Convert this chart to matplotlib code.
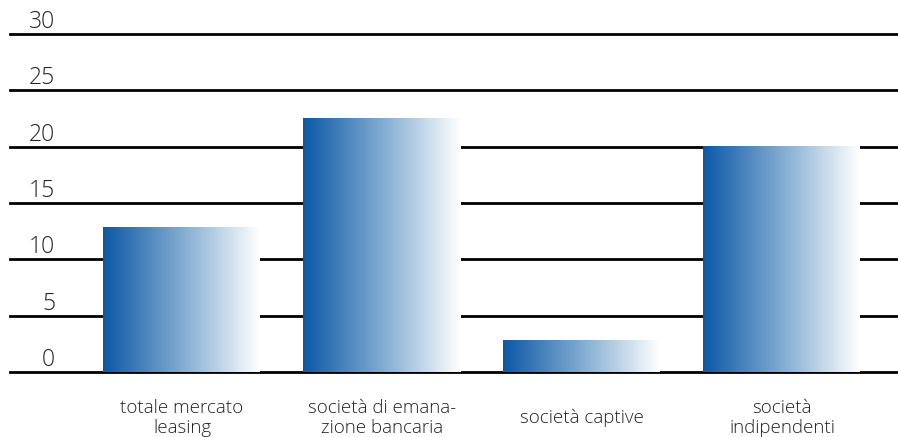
import numpy as np
import matplotlib.pyplot as plt
from matplotlib.colors import LinearSegmentedColormap

categories = ['totale mercato\nleasing', 'società di emana-\nzione bancaria',
              'società captive', 'società\nindipendenti']
values = [12.8, 22.5, 2.8, 20.0]
yticks = [0, 5, 10, 15, 20, 25, 30]

plt.rcParams['font.family'] = ['Open Sans', 'DejaVu Sans']

fig = plt.figure(figsize=(8.98, 4.37), dpi=100)
ax = fig.add_axes([10 / 898, 1 - 372 / 437, 888 / 898, 338 / 437])
ax.set_xlim(-0.86, 3.58)
ax.set_ylim(0, 30)
ax.axis('off')

for t in yticks:
    ax.axhline(t, color='black', lw=2, zorder=1, clip_on=False)
    ax.annotate(str(t), xy=(0, t), xycoords=('axes fraction', 'data'),
                xytext=(45, 0), textcoords='offset pixels',
                ha='right', va='bottom', fontsize=16.5, fontweight='light',
                color='#222222')

cmap = LinearSegmentedColormap.from_list('bar', ['#0d58a6', '#80abd1', '#ffffff'])
grad = np.linspace(0, 1, 256).reshape(1, -1)
x = np.arange(len(values))
bars = ax.bar(x, values, width=0.785, color='none', zorder=2)
for b in bars:
    x0, y0 = b.get_x(), b.get_y()
    ax.imshow(grad, cmap=cmap, aspect='auto', zorder=3,
              extent=(x0, x0 + b.get_width(), y0, y0 + b.get_height()))
ax.set_xlim(-0.86, 3.58)
ax.set_ylim(0, 30)

for xi, lab in zip(x, categories):
    ax.annotate(lab, xy=(xi, 0), xytext=(0, -46), textcoords='offset pixels',
                ha='center', va='center', fontsize=13.5, fontweight='light',
                color='#222222', linespacing=1.15)

fig.savefig('out.png', dpi=100)
